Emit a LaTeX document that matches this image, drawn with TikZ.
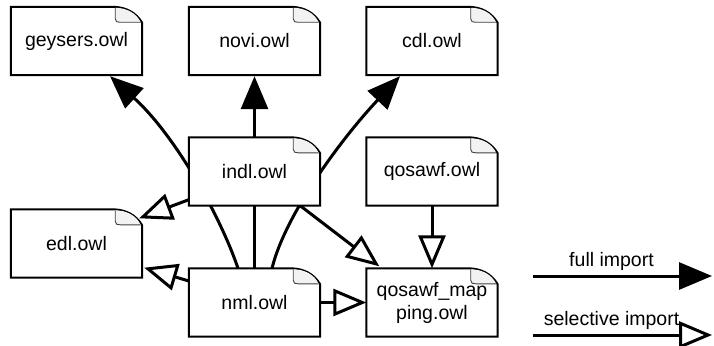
\documentclass[tikz,border=0pt]{standalone}
\usepackage{fontspec}
\setmainfont{Liberation Sans}
\usetikzlibrary{arrows.meta,calc}
\pgfdeclarelayer{bg}\pgfdeclarelayer{boxes}
\pgfsetlayers{bg,boxes,main}
\newcommand\docoutline{(\x1,\y1) -- (\x2-30pt,\y1) .. controls (\x2-16pt,\y1) and (\x2-6pt,\y1-6pt) .. (\x2,\y1-16pt) -- (\x2,\y2) -- (\x1,\y2) -- cycle}
\newcommand\docshape[1]{%
 \fill[black,opacity=0.06,shift={(4pt,-8pt)}] let \p1=(#1.north west),\p2=(#1.south east) in \docoutline;
 \fill[black,opacity=0.10,shift={(3pt,-5.5pt)}] let \p1=(#1.north west),\p2=(#1.south east) in \docoutline;
 \fill[black,opacity=0.20,shift={(2pt,-3.5pt)}] let \p1=(#1.north west),\p2=(#1.south east) in \docoutline;
 \filldraw[fill=white,draw=black,line width=2pt,line join=miter] let \p1=(#1.north west),\p2=(#1.south east) in \docoutline;
 \fill[black!5] let \p1=(#1.north west),\p2=(#1.south east) in
   (\x2-27pt,\y1-1pt) -- (\x2-27pt,\y1-12pt) .. controls (\x2-27pt,\y1-15pt) and (\x2-25pt,\y1-15.5pt) .. (\x2-22pt,\y1-15.5pt) -- (\x2-1.5pt,\y1-15.5pt) .. controls (\x2-6pt,\y1-6pt) and (\x2-16pt,\y1-1pt) .. (\x2-27pt,\y1-1pt) -- cycle;
 \draw[black!75,line width=0.9pt] let \p1=(#1.north west),\p2=(#1.south east) in
   (\x2-27pt,\y1-1pt) -- (\x2-27pt,\y1-12pt) .. controls (\x2-27pt,\y1-15pt) and (\x2-25pt,\y1-15.5pt) .. (\x2-22pt,\y1-15.5pt) -- (\x2-1.5pt,\y1-15.5pt);
}
\begin{document}
\begin{tikzpicture}[x=1pt,y=-1pt,
  doc/.style={minimum width=131pt,minimum height=68pt,inner sep=0pt,align=center,
    font=\fontsize{19.5}{23}\selectfont},
  legend/.style={inner sep=0pt,font=\fontsize{19.5}{23}\selectfont},
  full/.style={line width=3pt,-{Triangle[length=33pt,width=27pt]}},
  sel/.style={line width=3pt,-{Triangle[length=33pt,width=27pt,fill=white]}}]
\useasboundingbox (0,0) rectangle (714,345);
\node[doc] (geysers) at (76.5,41) {geysers.owl};
\node[doc] (novi) at (254.5,41) {novi.owl};
\node[doc] (cdl) at (432,41) {cdl.owl};
\node[doc] (indl) at (254.5,171.5) {indl.owl};
\node[doc] (qosawf) at (432,171.5) {qosawf.owl};
\node[doc] (edl) at (76.5,243.5) {edl.owl};
\node[doc] (nml) at (254.5,302.5) {nml.owl};
\node[doc] (map) at (432,302.5) {qosawf\_map\\ping.owl};
\begin{pgfonlayer}{boxes}
\foreach \bx in {geysers,novi,cdl,indl,qosawf,edl,nml,map} {\docshape{\bx}}
\end{pgfonlayer}
\begin{pgfonlayer}{bg}
\draw[full] ([xshift=-16.5pt]nml.north) .. controls +(-18,-53) and +(65,59) .. ([xshift=33.5pt,yshift=-1pt]geysers.south);
\draw[full] (nml.north) -- ([yshift=-1pt]novi.south);
\draw[full] ([xshift=17.5pt]nml.north) .. controls +(13,-53) and +(-60,64) .. ([xshift=-32pt,yshift=-1pt]cdl.south);
\draw[sel] ([yshift=6pt]indl.south west) -- ([xshift=-3pt,yshift=-9pt]edl.north east);
\draw[sel] ([yshift=21.5pt]nml.west) -- ([xshift=2pt,yshift=10pt]edl.south east);
\draw[sel] (nml.east) -- (map.west);
\draw[sel] ([xshift=-20pt]indl.south east) -- ([xshift=13pt,yshift=2pt]map.north west);
\draw[sel] (qosawf.south) -- (map.north);
\end{pgfonlayer}
\coordinate (f1) at (533,276); \coordinate (f2) at (712,276);
\coordinate (s1) at (533,335); \coordinate (s2) at (712,335);
\draw[full] (f1) -- (f2);
\draw[sel] (s1) -- (s2);
\node[legend,anchor=base] (lf) at (611.5,266.5) {full import};
\node[legend,anchor=base] (ls) at (611.5,325) {selective import};
\end{tikzpicture}
\end{document}
